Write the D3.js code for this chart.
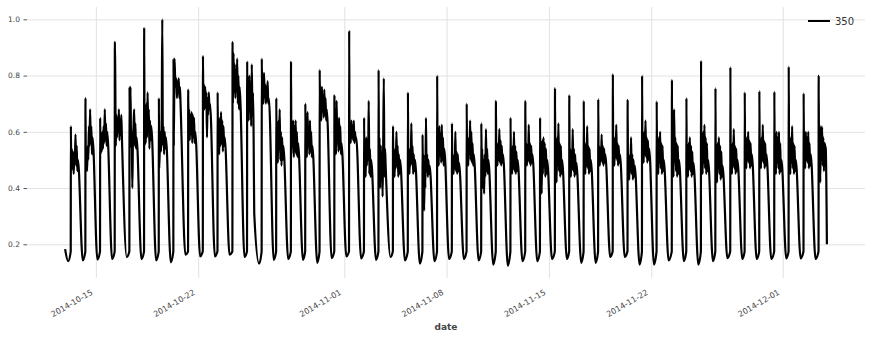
<!DOCTYPE html>
<html>
<head>
<meta charset="utf-8">
<script src="https://cdn.jsdelivr.net/npm/d3@7"></script>
<style>
  body { margin: 0; background: #fff; }
  svg { display: block; font-family: 'DejaVu Sans', sans-serif; }
</style>
</head>
<body>
<div id="graf"></div>
<script>
// values: one busy block per day
var firstDay = '2014-10-13'
// hour of the morning jump, per day
var riseHour = [7.0,7.0,7.1,7.2,7.3,7.4,7.5,7.5,7.7,7.9,
                8.0,8.5,8.5,8.5,8.3,8.5,8.0,7.6,7.8,8.0,
                8.5,8.3,8.0,8.5,8.5,8.5,8.8,9.0,9.0,9.0,
                9.0,9.3,9.5,10.0,9.5,9.2,9.0,9.0,9.3,9.0,
                9.0,10.0,9.8,9.8,9.5,10.0,9.6,9.6,10.2,9.8,
                10.3,11.0]
// spike at the start of each block
var dayPeak = [0.62,0.72,0.65,0.92,0.76,0.97,0.72,0.86,0.75,0.87,
               0.74,0.92,0.85,0.86,0.72,0.85,0.70,0.82,0.73,0.96,
               0.65,0.82,0.62,0.74,0.59,0.80,0.63,0.70,0.63,0.71,
               0.65,0.71,0.65,0.755,0.73,0.71,0.716,0.805,0.714,0.80,
               0.708,0.785,0.72,0.853,0.755,0.83,0.74,0.745,0.743,0.832,
               0.737,0.80]
// the noisy plateau after the spike
var dayPlateau = [
  [0.46,0.54,0.47,0.53,0.45,0.52,0.50,0.59,0.48,0.55,0.46,0.50],
  [0.47,0.53,0.46,0.55,0.50,0.62,0.55,0.68,0.56,0.62,0.52,0.58],
  [0.52,0.58,0.53,0.60,0.54,0.62,0.56,0.68,0.57,0.63,0.55,0.60],
  [0.82,0.55,0.66,0.58,0.65,0.60,0.68,0.57,0.64,0.59,0.66,0.58],
  [0.54,0.76,0.55,0.60,0.40,0.57,0.62,0.68,0.55,0.63,0.54,0.58],
  [0.55,0.66,0.56,0.70,0.58,0.74,0.60,0.68,0.54,0.64,0.57,0.62],
  [0.47,0.55,0.60,0.53,0.62,1.00,0.55,0.62,0.52,0.60,0.54,0.58],
  [0.55,0.86,0.80,0.76,0.79,0.72,0.78,0.74,0.79,0.72,0.76,0.70],
  [0.58,0.68,0.57,0.66,0.60,0.67,0.56,0.66,0.58,0.65,0.56,0.60],
  [0.70,0.77,0.68,0.76,0.70,0.74,0.58,0.72,0.66,0.74,0.68,0.70],
  [0.54,0.63,0.52,0.65,0.55,0.67,0.56,0.64,0.53,0.62,0.55,0.58],
  [0.70,0.88,0.74,0.84,0.72,0.82,0.76,0.86,0.70,0.80,0.68,0.76],
  [0.66,0.78,0.64,0.80,0.70,0.76,0.62,0.84,0.66,0.74,0.58,0.31],
  [0.72,0.78,0.70,0.81,0.74,0.77,0.70,0.76,0.71,0.78,0.70,0.72],
  [0.52,0.62,0.49,0.64,0.55,0.68,0.50,0.60,0.48,0.58,0.50,0.55],
  [0.52,0.63,0.55,0.64,0.51,0.62,0.53,0.64,0.52,0.60,0.51,0.56],
  [0.54,0.65,0.51,0.67,0.56,0.62,0.52,0.64,0.53,0.60,0.51,0.55],
  [0.66,0.74,0.64,0.76,0.68,0.73,0.65,0.75,0.66,0.72,0.64,0.68],
  [0.55,0.64,0.52,0.71,0.56,0.63,0.53,0.65,0.54,0.62,0.52,0.56],
  [0.58,0.63,0.56,0.64,0.58,0.62,0.57,0.64,0.56,0.60,0.57,0.58],
  [0.46,0.55,0.44,0.58,0.48,0.56,0.50,0.71,0.45,0.54,0.44,0.50],
  [0.48,0.58,0.40,0.55,0.46,0.52,0.37,0.56,0.79,0.44,0.54,0.48],
  [0.45,0.53,0.44,0.54,0.47,0.60,0.48,0.55,0.44,0.52,0.45,0.50],
  [0.46,0.53,0.45,0.54,0.48,0.63,0.49,0.55,0.45,0.52,0.46,0.50],
  [0.44,0.52,0.32,0.48,0.40,0.65,0.46,0.52,0.44,0.50,0.45,0.48],
  [0.50,0.60,0.48,0.62,0.52,0.59,0.49,0.625,0.50,0.58,0.48,0.54],
  [0.46,0.52,0.45,0.51,0.47,0.60,0.46,0.53,0.45,0.52,0.46,0.49],
  [0.49,0.57,0.48,0.58,0.52,0.64,0.50,0.60,0.49,0.56,0.48,0.52],
  [0.48,0.54,0.40,0.50,0.38,0.52,0.44,0.61,0.46,0.54,0.45,0.50],
  [0.49,0.55,0.48,0.56,0.50,0.61,0.49,0.57,0.48,0.55,0.49,0.52],
  [0.46,0.54,0.45,0.55,0.47,0.60,0.46,0.55,0.45,0.53,0.46,0.50],
  [0.49,0.56,0.48,0.55,0.50,0.625,0.49,0.56,0.48,0.55,0.49,0.52],
  [0.40,0.55,0.38,0.57,0.45,0.58,0.48,0.56,0.44,0.54,0.45,0.50],
  [0.44,0.57,0.42,0.58,0.48,0.63,0.46,0.56,0.44,0.55,0.45,0.50],
  [0.45,0.54,0.44,0.53,0.47,0.61,0.46,0.54,0.44,0.52,0.45,0.49],
  [0.46,0.55,0.45,0.56,0.48,0.62,0.47,0.55,0.45,0.54,0.46,0.50],
  [0.49,0.55,0.48,0.54,0.50,0.59,0.49,0.55,0.48,0.54,0.49,0.52],
  [0.49,0.57,0.48,0.58,0.51,0.625,0.50,0.56,0.48,0.55,0.49,0.52],
  [0.44,0.52,0.43,0.51,0.46,0.58,0.45,0.52,0.43,0.50,0.44,0.48],
  [0.50,0.59,0.49,0.60,0.52,0.64,0.51,0.58,0.49,0.57,0.50,0.54],
  [0.46,0.57,0.45,0.58,0.49,0.60,0.47,0.56,0.45,0.55,0.46,0.50],
  [0.45,0.57,0.44,0.68,0.50,0.58,0.46,0.56,0.44,0.55,0.45,0.50],
  [0.45,0.55,0.44,0.56,0.47,0.58,0.46,0.55,0.44,0.53,0.45,0.49],
  [0.46,0.59,0.45,0.60,0.49,0.625,0.47,0.58,0.45,0.56,0.46,0.50],
  [0.43,0.55,0.42,0.56,0.47,0.58,0.45,0.55,0.43,0.53,0.44,0.48],
  [0.46,0.55,0.45,0.56,0.48,0.61,0.47,0.55,0.45,0.54,0.46,0.50],
  [0.48,0.57,0.47,0.58,0.50,0.60,0.49,0.57,0.47,0.56,0.48,0.52],
  [0.48,0.57,0.47,0.58,0.50,0.625,0.49,0.57,0.47,0.56,0.48,0.52],
  [0.46,0.59,0.45,0.60,0.49,0.58,0.47,0.60,0.45,0.56,0.46,0.50],
  [0.46,0.57,0.45,0.58,0.49,0.62,0.47,0.56,0.45,0.55,0.46,0.50],
  [0.48,0.59,0.47,0.60,0.50,0.58,0.49,0.60,0.47,0.56,0.48,0.52],
  [0.44,0.60,0.42,0.62,0.50,0.617,0.48,0.58,0.46,0.56,0.55,0.54]
]
// night minimum after each block
var dayTrough = [0.143,0.146,0.148,0.155,0.148,0.143,0.136,0.163,0.157,0.157,
                 0.163,0.155,0.131,0.145,0.148,0.145,0.134,0.151,0.157,0.150,
                 0.145,0.155,0.143,0.131,0.140,0.148,0.148,0.143,0.128,0.124,
                 0.140,0.140,0.148,0.148,0.134,0.134,0.155,0.155,0.128,0.128,
                 0.143,0.140,0.128,0.140,0.151,0.148,0.148,0.148,0.150,0.150,
                 0.148,0.200]
var dawnLevel = 0.175
var startPoints = [['2014-10-12T21:30', 0.183], ['2014-10-13T02:30', 0.140]]
var endPoint = ['2014-12-04T00:30', 0.200]

var xTicks = ['2014-10-15','2014-10-22','2014-11-01','2014-11-08','2014-11-15','2014-11-22','2014-12-01']
var yTicks = [0.2, 0.4, 0.6, 0.8, 1.0]
var seriesName = '350'

var ancho_total = 871, alto_total = 339
var margins = { top: 7, left: 27, right: 6, bottom: 61 }
var ancho = ancho_total - margins.left - margins.right
var alto = alto_total - margins.top - margins.bottom
var HORA = 3600e3

// build the time series from the daily readings
var day0 = Date.parse(firstDay + 'T00:00:00Z')
var puntos = startPoints.map(p => ({ t: new Date(p[0] + ':00Z'), v: p[1] }))
dayPeak.forEach((pk, i) => {
  var base = day0 + i * 24 * HORA
  var r = riseHour[i]
  var at = h => new Date(base + h * HORA)
  puntos.push({ t: at(r - 0.25), v: dawnLevel })
  puntos.push({ t: at(r), v: pk })
  dayPlateau[i].forEach((v, k) => puntos.push({ t: at(r + 0.6 + k * 1.0), v: v }))
  if (i < dayPeak.length - 1) puntos.push({ t: at(r + 19.5), v: dayTrough[i] })
})
puntos.push({ t: new Date(endPoint[0] + ':00Z'), v: endPoint[1] })

var svg = d3.select('#graf').append('svg')
  .attr('width', ancho_total)
  .attr('height', alto_total)

var g = svg.append('g')
  .attr('transform', `translate(${ margins.left }, ${ margins.top })`)

// 5% padding around the data, like matplotlib
var ext = d3.extent(puntos, d => d.t)
var span = ext[1] - ext[0]
var x = d3.scaleUtc()
  .domain([new Date(+ext[0] - span * 0.05), new Date(+ext[1] + span * 0.05)])
  .range([0, ancho])

var vmin = d3.min(puntos, d => d.v), vmax = d3.max(puntos, d => d.v)
var y = d3.scaleLinear()
  .domain([vmin - (vmax - vmin) * 0.05, vmax + (vmax - vmin) * 0.05])
  .range([alto, 0])

var xTickDates = xTicks.map(s => new Date(s + 'T00:00:00Z'))

// grid
g.append('g')
  .attr('transform', `translate(0, ${ alto })`)
  .call(d3.axisBottom(x).tickValues(xTickDates).tickSize(-alto).tickFormat(''))
g.append('g')
  .call(d3.axisLeft(y).tickValues(yTicks).tickSize(-ancho).tickFormat(''))
g.selectAll('.domain').remove()
g.selectAll('.tick line').attr('stroke', '#e2e2e2').attr('stroke-width', 1)

// y tick marks and labels
var yAxisGroup = g.append('g')
  .call(d3.axisLeft(y).tickValues(yTicks).tickSize(3.5).tickPadding(3.5).tickFormat(d3.format('.1f')))
yAxisGroup.select('.domain').remove()
yAxisGroup.selectAll('line').attr('stroke', '#555')
yAxisGroup.selectAll('text')
  .attr('fill', '#444')
  .style('font-size', '7.5px')
  .style('font-family', 'DejaVu Sans')

// x labels, rotated
var fmt = d3.utcFormat('%Y-%m-%d')
g.append('g').selectAll('text')
  .data(xTickDates)
  .join('text')
    .attr('transform', d => `translate(${ x(d) - 2.5 }, ${ alto + 16 }) rotate(-30)`)
    .attr('text-anchor', 'end')
    .attr('fill', '#444')
    .style('font-size', '8px')
    .text(d => fmt(d))

g.append('text')
  .attr('x', ancho / 2)
  .attr('y', alto + 52)
  .attr('text-anchor', 'middle')
  .attr('fill', '#444')
  .style('font-size', '9px')
  .style('font-weight', 'bold')
  .text('date')

// the series
var linea = d3.line()
  .x(d => x(d.t))
  .y(d => y(d.v))
  .curve(d3.curveMonotoneX)

g.append('path')
  .datum(puntos)
  .attr('d', linea)
  .attr('fill', 'none')
  .attr('stroke', '#000')
  .attr('stroke-width', 2.2)
  .attr('stroke-linejoin', 'round')

// legend
var leyenda = svg.append('g').attr('transform', 'translate(808, 21)')
leyenda.append('line')
  .attr('x1', 0).attr('x2', 22)
  .attr('stroke', '#000').attr('stroke-width', 2)
leyenda.append('text')
  .attr('x', 27)
  .attr('y', 3.5)
  .attr('fill', '#333')
  .style('font-size', '10px')
  .text(seriesName)
</script>
</body>
</html>
